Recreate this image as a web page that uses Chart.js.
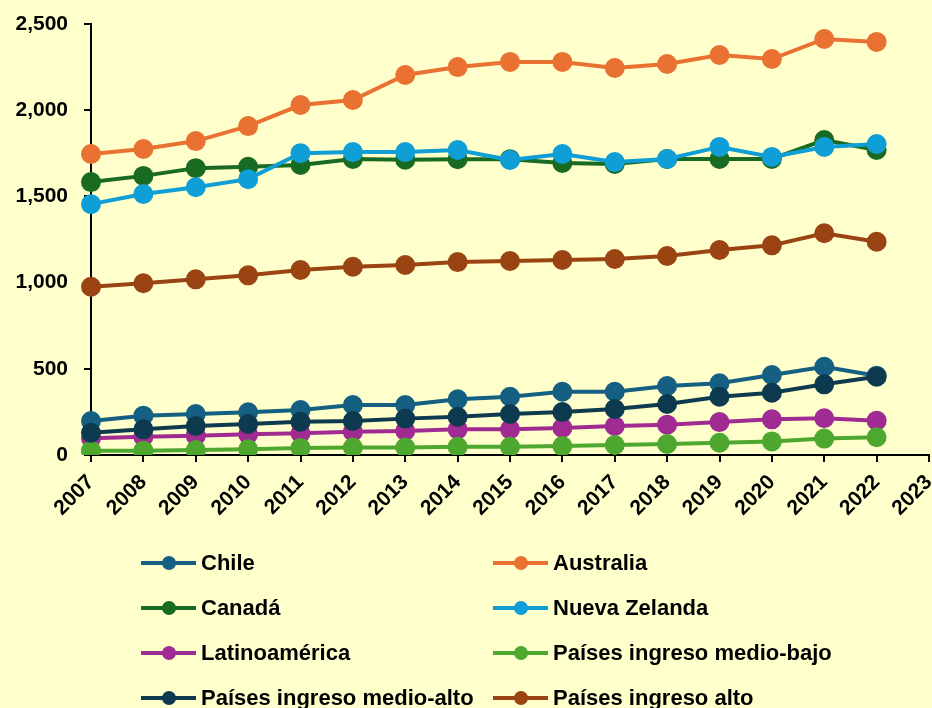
<!DOCTYPE html>
<html lang="es">
<head>
<meta charset="UTF-8">
<title>Chart</title>
<script src="https://cdn.jsdelivr.net/npm/chart.js"></script>
<style>
  body { margin: 0; background: #FFFFCC; }
  #wrap { position: relative; width: 932px; height: 708px; overflow: hidden; background: #FFFFCC; }
  #legend {
    position: absolute; left: 141px; top: 540px;
    display: grid; grid-template-columns: 352px 352px; grid-auto-rows: 45px;
    font-family: "Liberation Sans", Arial, sans-serif;
    font-weight: bold; font-size: 22px; color: #000;
  }
  .item { display: flex; align-items: center; white-space: nowrap; }
  .sym { position: relative; width: 55px; height: 16px; margin-right: 5px; }
  .sym .ln { position: absolute; left: 0; right: 0; top: 6px; height: 4px; }
  .sym .dt { position: absolute; left: 21px; top: 1px; width: 14px; height: 14px; border-radius: 50%; }
</style>
</head>
<body>
<div id="wrap">
  <canvas id="chart" width="941" height="708"></canvas>
  <div id="legend"></div>
</div>
<script>
  const years = ["2007","2008","2009","2010","2011","2012","2013","2014","2015","2016","2017","2018","2019","2020","2021","2022","2023"];

  const chile      = [197, 228, 238, 248, 261, 290, 290, 323, 338, 367, 367, 400, 416, 464, 512, 460];
  const australia  = [1746, 1775, 1821, 1908, 2030, 2059, 2204, 2250, 2280, 2280, 2245, 2268, 2320, 2297, 2413, 2396];
  const canada     = [1583, 1619, 1664, 1672, 1682, 1717, 1713, 1716, 1716, 1694, 1688, 1717, 1717, 1717, 1827, 1769];
  const nuevaZel   = [1455, 1514, 1553, 1600, 1751, 1757, 1757, 1769, 1711, 1746, 1699, 1717, 1787, 1729, 1787, 1804];
  const latam      = [97, 106, 112, 120, 126, 135, 139, 149, 149, 157, 168, 176, 191, 207, 213, 199];
  const medioBajo  = [25, 25, 29, 33, 41, 43, 43, 48, 48, 52, 58, 64, 71, 79, 95, 103];
  const medioAlto  = [129, 149, 168, 180, 193, 197, 211, 222, 238, 249, 267, 296, 338, 361, 410, 454];
  const alto       = [976, 996, 1019, 1042, 1073, 1092, 1102, 1119, 1125, 1131, 1137, 1154, 1189, 1216, 1286, 1237];

  const series = [
    { label: "Chile", data: chile, color: "#156082" },
    { label: "Australia", data: australia, color: "#E97132" },
    { label: "Canadá", data: canada, color: "#196B24" },
    { label: "Nueva Zelanda", data: nuevaZel, color: "#0F9ED5" },
    { label: "Latinoamérica", data: latam, color: "#A02B93" },
    { label: "Países ingreso medio-bajo", data: medioBajo, color: "#4EA72E" },
    { label: "Países ingreso medio-alto", data: medioAlto, color: "#0E3A50" },
    { label: "Países ingreso alto", data: alto, color: "#9A4313" }
  ];

  const tickFont = { family: "'Liberation Sans', Arial, sans-serif", weight: "bold", size: 21 };

  const chart = new Chart(document.getElementById("chart"), {
    type: "line",
    data: {
      labels: years,
      datasets: series.map((s, i) => ({
        label: s.label,
        data: s.data,
        borderColor: s.color,
        backgroundColor: s.color,
        pointBackgroundColor: s.color,
        pointBorderColor: s.color,
        borderWidth: 4,
        pointRadius: 8,
        pointHoverRadius: 8,
        tension: 0,
        fill: false,
        order: series.length - i // later series drawn on top, like Excel
      }))
    },
    options: {
      responsive: false,
      animation: false,
      layout: { padding: { top: 24, right: 3, left: 0, bottom: 0 } },
      plugins: { legend: { display: false }, tooltip: { enabled: false } },
      scales: {
        x: {
          offset: false,
          grid: { drawOnChartArea: false, drawTicks: true, tickLength: 7, color: "#000", lineWidth: 2 },
          border: { color: "#000", width: 2 },
          ticks: { color: "#000", font: tickFont, maxRotation: 45, minRotation: 45, autoSkip: false, padding: 8 },
          afterFit: (s) => { s.height = 253; s.paddingLeft = 0; s.paddingRight = 0; }
        },
        y: {
          min: 0, max: 2500,
          grid: { drawOnChartArea: false, drawTicks: true, tickLength: 7, color: "#000", lineWidth: 2 },
          border: { color: "#000", width: 2 },
          ticks: { color: "#000", font: tickFont, stepSize: 500, padding: 16 },
          afterFit: (s) => { s.width = 91; s.paddingTop = 0; s.paddingBottom = 0; }
        }
      }
    }
  });

  // legend in two columns, built from the chart's datasets
  const legend = document.getElementById("legend");
  chart.data.datasets.forEach(ds => {
    const item = document.createElement("div");
    item.className = "item";
    item.innerHTML = '<span class="sym"><span class="ln" style="background:' + ds.borderColor +
      '"></span><span class="dt" style="background:' + ds.borderColor + '"></span></span><span>' + ds.label + '</span>';
    legend.appendChild(item);
  });
</script>
</body>
</html>
